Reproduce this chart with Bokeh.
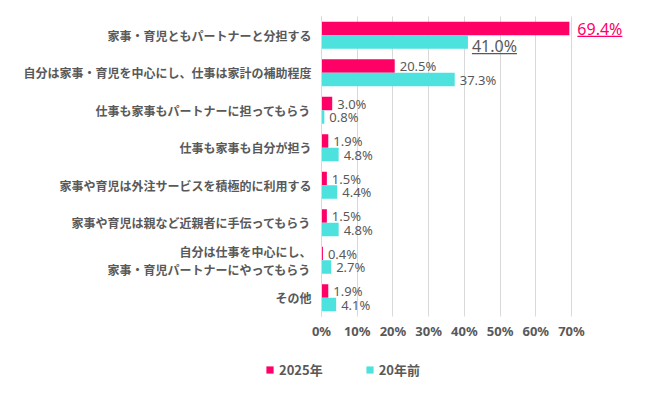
from bokeh.plotting import figure
from bokeh.models import (ColumnDataSource, Range1d, FixedTicker,
                          PrintfTickFormatter, Legend, LegendItem)
from bokeh.core.properties import value
from bokeh.embed import file_html
from bokeh.resources import INLINE

categories = [
    "家事・育児ともパートナーと分担する",
    "自分は家事・育児を中心にし、仕事は家計の補助程度",
    "仕事も家事もパートナーに担ってもらう",
    "仕事も家事も自分が担う",
    "家事や育児は外注サービスを積極的に利用する",
    "家事や育児は親など近親者に手伝ってもらう",
    "自分は仕事を中心にし、\n家事・育児パートナーにやってもらう",
    "その他",
]
values_2025 = [69.4, 20.5, 3.0, 1.9, 1.5, 1.5, 0.4, 1.9]
values_20y = [41.0, 37.3, 0.8, 4.8, 4.4, 4.8, 2.7, 4.1]
series_names = ["2025年", "20年前"]
x_ticks = [0, 10, 20, 30, 40, 50, 60, 70]
highlight = categories[0]

PINK = "#FF0066"
CYAN = "#4DE2DE"
GRAY = "#595959"
GRID = "#D9D9D9"

# layout geometry (screen px)
W, H = 642, 385
ZERO_PX = 321          # where 0% sits
PPU = 250 / 70         # px per percent
ROW = 37.5             # px per category band
TOP_PX = 16            # top of first band

n = len(categories)
ypos = [n - i for i in range(n)]          # top category highest
y_top = n + 0.5 + TOP_PX / ROW
y_bot = y_top - H / ROW

p = figure(width=W, height=H,
           x_range=Range1d(-ZERO_PX / PPU, (W - ZERO_PX) / PPU),
           y_range=Range1d(y_bot, y_top),
           output_backend="svg", toolbar_location=None, min_border=0)
p.outline_line_color = None
p.border_fill_color = "white"

src = ColumnDataSource(dict(
    y25=[y + 0.18 for y in ypos], y20=[y - 0.18 for y in ypos],
    v25=values_2025, v20=values_20y))
r25 = p.hbar(y="y25", left=0, right="v25", height=0.36, source=src,
             fill_color=PINK, line_color=None)
r20 = p.hbar(y="y20", left=0, right="v20", height=0.36, source=src,
             fill_color=CYAN, line_color=None)

# small value labels
idx = [i for i, c in enumerate(categories) if c != highlight]
s25 = ColumnDataSource(dict(y=[ypos[i] + 0.18 for i in idx],
                            v=[values_2025[i] for i in idx],
                            t=[f"{values_2025[i]:.1f}%" for i in idx]))
s20 = ColumnDataSource(dict(y=[ypos[i] - 0.18 for i in idx],
                            v=[values_20y[i] for i in idx],
                            t=[f"{values_20y[i]:.1f}%" for i in idx]))
for s in (s25, s20):
    p.text(x="v", y="y", text="t", source=s, x_offset=5,
           text_baseline="middle", text_align="left",
           text_font=value("Noto Sans"), text_font_size="13px", text_color=GRAY)

# highlighted (underlined) labels
h = categories.index(highlight)
hp = ColumnDataSource(dict(y=[ypos[h] + 0.17], yu=[ypos[h] - 0.03],
                           v=[values_2025[h]], t=[f"{values_2025[h]:.1f}%"],
                           x0=[values_2025[h] + 8 / PPU], x1=[values_2025[h] + 53 / PPU]))
hc = ColumnDataSource(dict(y=[ypos[h] - 0.28], yu=[ypos[h] - 0.49],
                           v=[values_20y[h]], t=[f"{values_20y[h]:.1f}%"],
                           x0=[values_20y[h] + 4 / PPU], x1=[values_20y[h] + 49 / PPU]))
p.text(x="v", y="y", text="t", source=hp, x_offset=8, text_baseline="middle",
       text_font=value("Noto Sans"), text_font_size="16px", text_color=PINK)
p.segment(x0="x0", x1="x1", y0="yu", y1="yu", source=hp,
          line_color=PINK, line_width=1.2)
p.text(x="v", y="y", text="t", source=hc, x_offset=4, text_baseline="middle",
       text_font=value("Noto Sans"), text_font_size="16px", text_color=GRAY)
p.segment(x0="x0", x1="x1", y0="yu", y1="yu", source=hc,
          line_color=GRAY, line_width=1.2)

band_lo, band_hi = min(ypos) - 0.5, max(ypos) + 0.5

# x axis (percent) sitting under the last band
xa = p.xaxis[0]
xa.fixed_location = band_lo
xa.ticker = FixedTicker(ticks=x_ticks)
xa.formatter = PrintfTickFormatter(format="%d%%")
xa.axis_line_color = None
xa.major_tick_line_color = None
xa.minor_tick_line_color = None
xa.major_tick_out = 0
xa.minor_tick_out = 0
xa.major_label_standoff = 5
xa.major_label_text_font = "Noto Sans"
xa.major_label_text_font_style = "bold"
xa.major_label_text_font_size = "13px"
xa.major_label_text_color = GRAY

# category axis at 0%
ya = p.yaxis[0]
ya.fixed_location = 0
ya.bounds = (band_lo, band_hi)
ya.ticker = FixedTicker(ticks=ypos)
ya.major_label_overrides = {float(y): c for y, c in zip(ypos, categories)}
ya.axis_line_color = GRID
ya.major_tick_line_color = None
ya.minor_tick_line_color = None
ya.major_tick_out = 0
ya.minor_tick_out = 0
ya.major_label_standoff = 10
ya.major_label_text_font = "Noto Sans CJK JP"
ya.major_label_text_font_style = "bold"
ya.major_label_text_font_size = "12px"
ya.major_label_text_color = GRAY
ya.major_label_text_line_height = 1.05

p.ygrid.grid_line_color = None
xg = p.xgrid[0]
xg.ticker = FixedTicker(ticks=x_ticks)
if "cross_bounds" in xg.properties():
    xg.cross_bounds = (band_lo, band_hi)
    xg.grid_line_color = GRID
else:
    xg.grid_line_color = None
    p.segment(x0=x_ticks, x1=x_ticks, y0=[band_lo] * len(x_ticks),
              y1=[band_hi] * len(x_ticks), line_color=GRID, line_width=1,
              level="underlay")

legend = Legend(items=[LegendItem(label=series_names[0], renderers=[r25]),
                       LegendItem(label=series_names[1], renderers=[r20])],
                orientation="horizontal", location=(265, 6),
                glyph_width=9, glyph_height=9, label_height=14,
                label_standoff=5, spacing=42, padding=0, margin=0,
                border_line_color=None, background_fill_alpha=0,
                label_text_font="Noto Sans CJK JP", label_text_font_style="bold",
                label_text_font_size="13px", label_text_color=GRAY)
p.add_layout(legend, "center")

open("out.html", "w").write(file_html(p, INLINE))
